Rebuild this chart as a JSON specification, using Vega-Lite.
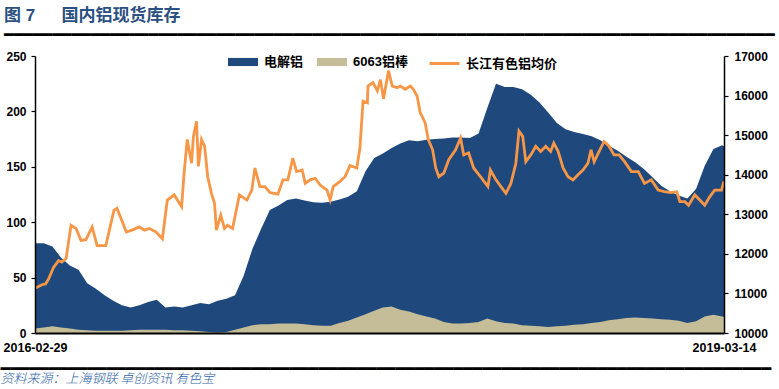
{
  "$schema": "https://vega.github.io/schema/vega-lite/v6.json",
  "width": 689,
  "height": 277,
  "autosize": {"type": "none"},
  "padding": {"left": 35, "top": 56, "right": 55, "bottom": 56},
  "background": "white",
  "config": {"view": {"stroke": null}},
  "title": {
    "text": "图 7\u3000\u00a0\u00a0国内铝现货库存",
    "subtitle": "━━━━━━━━━━━━━━━━━━━━━━━━━━━━━━━━━━━━━━━━━━━━━━━━━━━━━━━━━━━━━━━━━━━━━━━━━━━━━━━━",
    "anchor": "start",
    "frame": "group",
    "dx": -31,
    "offset": 3,
    "font": "Liberation Sans, Noto Sans CJK SC",
    "fontSize": 17,
    "fontWeight": "bold",
    "color": "#2B4F81",
    "subtitleFont": "DejaVu Sans Mono",
    "subtitleFontSize": 16,
    "subtitleFontWeight": "bold",
    "subtitleColor": "#000000",
    "subtitlePadding": 2
  },
  "datasets": {
    "stock": [
      {"date": "2016-02-29", "electrolytic": 81, "bar6063": 4},
      {"date": "2016-03-14", "electrolytic": 81, "bar6063": 5},
      {"date": "2016-03-28", "electrolytic": 78, "bar6063": 6},
      {"date": "2016-04-11", "electrolytic": 68, "bar6063": 5},
      {"date": "2016-04-25", "electrolytic": 61, "bar6063": 4},
      {"date": "2016-05-09", "electrolytic": 57, "bar6063": 3},
      {"date": "2016-05-23", "electrolytic": 45, "bar6063": 2.5},
      {"date": "2016-06-06", "electrolytic": 40, "bar6063": 2},
      {"date": "2016-06-20", "electrolytic": 34, "bar6063": 2},
      {"date": "2016-07-04", "electrolytic": 29, "bar6063": 2},
      {"date": "2016-07-18", "electrolytic": 25, "bar6063": 2},
      {"date": "2016-08-01", "electrolytic": 23, "bar6063": 2.5},
      {"date": "2016-08-15", "electrolytic": 25, "bar6063": 3},
      {"date": "2016-08-29", "electrolytic": 28, "bar6063": 3},
      {"date": "2016-09-12", "electrolytic": 30, "bar6063": 3},
      {"date": "2016-09-26", "electrolytic": 23, "bar6063": 3},
      {"date": "2016-10-10", "electrolytic": 24, "bar6063": 2.5},
      {"date": "2016-10-24", "electrolytic": 23, "bar6063": 2.5},
      {"date": "2016-11-07", "electrolytic": 25, "bar6063": 2},
      {"date": "2016-11-21", "electrolytic": 27, "bar6063": 1.5},
      {"date": "2016-12-05", "electrolytic": 26, "bar6063": 1},
      {"date": "2016-12-19", "electrolytic": 29, "bar6063": 0.5},
      {"date": "2017-01-02", "electrolytic": 31, "bar6063": 1},
      {"date": "2017-01-16", "electrolytic": 34, "bar6063": 3},
      {"date": "2017-01-30", "electrolytic": 52, "bar6063": 5},
      {"date": "2017-02-13", "electrolytic": 76, "bar6063": 7},
      {"date": "2017-02-27", "electrolytic": 94, "bar6063": 8},
      {"date": "2017-03-13", "electrolytic": 111, "bar6063": 8},
      {"date": "2017-03-27", "electrolytic": 115, "bar6063": 8.5},
      {"date": "2017-04-10", "electrolytic": 120, "bar6063": 8.5},
      {"date": "2017-04-24", "electrolytic": 121.5, "bar6063": 8.5},
      {"date": "2017-05-08", "electrolytic": 119.5, "bar6063": 8},
      {"date": "2017-05-22", "electrolytic": 118, "bar6063": 7},
      {"date": "2017-06-05", "electrolytic": 117.5, "bar6063": 6.5},
      {"date": "2017-06-19", "electrolytic": 118.5, "bar6063": 6.5},
      {"date": "2017-07-03", "electrolytic": 120.5, "bar6063": 9},
      {"date": "2017-07-17", "electrolytic": 123, "bar6063": 11},
      {"date": "2017-07-31", "electrolytic": 128, "bar6063": 14},
      {"date": "2017-08-14", "electrolytic": 146, "bar6063": 17},
      {"date": "2017-08-28", "electrolytic": 158, "bar6063": 20},
      {"date": "2017-09-11", "electrolytic": 162, "bar6063": 23},
      {"date": "2017-09-25", "electrolytic": 167, "bar6063": 24},
      {"date": "2017-10-09", "electrolytic": 171, "bar6063": 21},
      {"date": "2017-10-23", "electrolytic": 174, "bar6063": 19.5},
      {"date": "2017-11-06", "electrolytic": 173, "bar6063": 17},
      {"date": "2017-11-20", "electrolytic": 174.5, "bar6063": 15},
      {"date": "2017-12-04", "electrolytic": 175, "bar6063": 13},
      {"date": "2017-12-18", "electrolytic": 175.5, "bar6063": 10},
      {"date": "2018-01-01", "electrolytic": 176.5, "bar6063": 8.5},
      {"date": "2018-01-15", "electrolytic": 176.5, "bar6063": 8.5},
      {"date": "2018-01-29", "electrolytic": 176, "bar6063": 9},
      {"date": "2018-02-12", "electrolytic": 180, "bar6063": 10},
      {"date": "2018-02-26", "electrolytic": 203, "bar6063": 13},
      {"date": "2018-03-12", "electrolytic": 225, "bar6063": 10.5},
      {"date": "2018-03-26", "electrolytic": 222, "bar6063": 9},
      {"date": "2018-04-09", "electrolytic": 222, "bar6063": 8.5},
      {"date": "2018-04-23", "electrolytic": 220, "bar6063": 7},
      {"date": "2018-05-07", "electrolytic": 215, "bar6063": 6.5},
      {"date": "2018-05-21", "electrolytic": 208, "bar6063": 6},
      {"date": "2018-06-04", "electrolytic": 199, "bar6063": 5.5},
      {"date": "2018-06-18", "electrolytic": 189.5, "bar6063": 6},
      {"date": "2018-07-02", "electrolytic": 184, "bar6063": 6.5},
      {"date": "2018-07-16", "electrolytic": 181.5, "bar6063": 7.5},
      {"date": "2018-07-30", "electrolytic": 179.5, "bar6063": 8},
      {"date": "2018-08-13", "electrolytic": 177.5, "bar6063": 9},
      {"date": "2018-08-27", "electrolytic": 174, "bar6063": 10},
      {"date": "2018-09-10", "electrolytic": 169, "bar6063": 11.5},
      {"date": "2018-09-24", "electrolytic": 164.5, "bar6063": 12.5},
      {"date": "2018-10-08", "electrolytic": 159, "bar6063": 13.5},
      {"date": "2018-10-22", "electrolytic": 154, "bar6063": 14},
      {"date": "2018-11-05", "electrolytic": 148, "bar6063": 13.5},
      {"date": "2018-11-19", "electrolytic": 140.5, "bar6063": 13},
      {"date": "2018-12-03", "electrolytic": 133, "bar6063": 12.5},
      {"date": "2018-12-17", "electrolytic": 128, "bar6063": 12},
      {"date": "2018-12-31", "electrolytic": 124, "bar6063": 11},
      {"date": "2019-01-14", "electrolytic": 121.5, "bar6063": 9},
      {"date": "2019-01-28", "electrolytic": 130, "bar6063": 10.5},
      {"date": "2019-02-11", "electrolytic": 151, "bar6063": 15},
      {"date": "2019-02-25", "electrolytic": 166, "bar6063": 16.5},
      {"date": "2019-03-11", "electrolytic": 169.5, "bar6063": 15},
      {"date": "2019-03-14", "electrolytic": 168.5, "bar6063": 14.5}
    ],
    "price": [
      {"date": "2016-03-01", "price": 11140},
      {"date": "2016-03-11", "price": 11220},
      {"date": "2016-03-17", "price": 11240},
      {"date": "2016-03-22", "price": 11370},
      {"date": "2016-03-30", "price": 11660},
      {"date": "2016-04-07", "price": 11830},
      {"date": "2016-04-12", "price": 11790},
      {"date": "2016-04-19", "price": 11880},
      {"date": "2016-04-27", "price": 12720},
      {"date": "2016-05-05", "price": 12640},
      {"date": "2016-05-13", "price": 12340},
      {"date": "2016-05-21", "price": 12360},
      {"date": "2016-05-31", "price": 12680},
      {"date": "2016-06-08", "price": 12210},
      {"date": "2016-06-22", "price": 12210},
      {"date": "2016-07-05", "price": 13100},
      {"date": "2016-07-10", "price": 13150},
      {"date": "2016-07-25", "price": 12550},
      {"date": "2016-08-03", "price": 12600},
      {"date": "2016-08-15", "price": 12680},
      {"date": "2016-08-23", "price": 12600},
      {"date": "2016-08-31", "price": 12640},
      {"date": "2016-09-11", "price": 12550},
      {"date": "2016-09-21", "price": 12380},
      {"date": "2016-09-29", "price": 13360},
      {"date": "2016-10-10", "price": 13490},
      {"date": "2016-10-22", "price": 13190},
      {"date": "2016-10-26", "price": 14040},
      {"date": "2016-10-31", "price": 14890},
      {"date": "2016-11-07", "price": 14290},
      {"date": "2016-11-10", "price": 14970},
      {"date": "2016-11-15", "price": 15350},
      {"date": "2016-11-18", "price": 14210},
      {"date": "2016-11-23", "price": 14890},
      {"date": "2016-11-28", "price": 14720},
      {"date": "2016-12-03", "price": 13950},
      {"date": "2016-12-09", "price": 13530},
      {"date": "2016-12-14", "price": 13280},
      {"date": "2016-12-17", "price": 12600},
      {"date": "2016-12-24", "price": 12980},
      {"date": "2016-12-30", "price": 12640},
      {"date": "2017-01-04", "price": 12720},
      {"date": "2017-01-12", "price": 12640},
      {"date": "2017-01-23", "price": 13490},
      {"date": "2017-02-04", "price": 13360},
      {"date": "2017-02-12", "price": 13610},
      {"date": "2017-02-17", "price": 14170},
      {"date": "2017-02-25", "price": 13700},
      {"date": "2017-03-05", "price": 13700},
      {"date": "2017-03-13", "price": 13550},
      {"date": "2017-03-26", "price": 13510},
      {"date": "2017-04-03", "price": 13870},
      {"date": "2017-04-11", "price": 13870},
      {"date": "2017-04-19", "price": 14420},
      {"date": "2017-04-25", "price": 14080},
      {"date": "2017-05-04", "price": 14120},
      {"date": "2017-05-09", "price": 13780},
      {"date": "2017-05-17", "price": 13870},
      {"date": "2017-05-25", "price": 13910},
      {"date": "2017-06-02", "price": 13740},
      {"date": "2017-06-13", "price": 13610},
      {"date": "2017-06-18", "price": 13360},
      {"date": "2017-06-23", "price": 13700},
      {"date": "2017-07-04", "price": 13830},
      {"date": "2017-07-12", "price": 13950},
      {"date": "2017-07-20", "price": 14230},
      {"date": "2017-07-31", "price": 14170},
      {"date": "2017-08-05", "price": 14680},
      {"date": "2017-08-10", "price": 15860},
      {"date": "2017-08-17", "price": 15820},
      {"date": "2017-08-18", "price": 16240},
      {"date": "2017-08-26", "price": 16330},
      {"date": "2017-09-02", "price": 16120},
      {"date": "2017-09-07", "price": 16400},
      {"date": "2017-09-12", "price": 15920},
      {"date": "2017-09-20", "price": 16630},
      {"date": "2017-09-26", "price": 16240},
      {"date": "2017-10-04", "price": 16200},
      {"date": "2017-10-09", "price": 16240},
      {"date": "2017-10-17", "price": 16160},
      {"date": "2017-10-25", "price": 16240},
      {"date": "2017-10-30", "price": 16160},
      {"date": "2017-11-05", "price": 15990},
      {"date": "2017-11-10", "price": 15570},
      {"date": "2017-11-18", "price": 15310},
      {"date": "2017-11-23", "price": 14890},
      {"date": "2017-11-30", "price": 14630},
      {"date": "2017-12-05", "price": 14170},
      {"date": "2017-12-10", "price": 13950},
      {"date": "2017-12-18", "price": 14040},
      {"date": "2017-12-26", "price": 14380},
      {"date": "2018-01-06", "price": 14630},
      {"date": "2018-01-14", "price": 14930},
      {"date": "2018-01-19", "price": 14500},
      {"date": "2018-01-27", "price": 14550},
      {"date": "2018-02-04", "price": 14170},
      {"date": "2018-02-15", "price": 13950},
      {"date": "2018-02-27", "price": 13700},
      {"date": "2018-03-03", "price": 14120},
      {"date": "2018-03-12", "price": 13870},
      {"date": "2018-03-20", "price": 13700},
      {"date": "2018-03-28", "price": 13530},
      {"date": "2018-04-05", "price": 13780},
      {"date": "2018-04-13", "price": 14290},
      {"date": "2018-04-18", "price": 15100},
      {"date": "2018-04-24", "price": 14970},
      {"date": "2018-04-29", "price": 14330},
      {"date": "2018-05-07", "price": 14500},
      {"date": "2018-05-15", "price": 14720},
      {"date": "2018-05-23", "price": 14590},
      {"date": "2018-05-31", "price": 14720},
      {"date": "2018-06-08", "price": 14590},
      {"date": "2018-06-13", "price": 14800},
      {"date": "2018-06-20", "price": 14590},
      {"date": "2018-06-28", "price": 14170},
      {"date": "2018-07-06", "price": 13950},
      {"date": "2018-07-14", "price": 13870},
      {"date": "2018-07-22", "price": 14000},
      {"date": "2018-07-30", "price": 14120},
      {"date": "2018-08-07", "price": 14290},
      {"date": "2018-08-12", "price": 14630},
      {"date": "2018-08-17", "price": 14330},
      {"date": "2018-08-25", "price": 14590},
      {"date": "2018-09-02", "price": 14840},
      {"date": "2018-09-10", "price": 14720},
      {"date": "2018-09-18", "price": 14500},
      {"date": "2018-09-26", "price": 14500},
      {"date": "2018-10-05", "price": 14330},
      {"date": "2018-10-16", "price": 14080},
      {"date": "2018-10-27", "price": 14080},
      {"date": "2018-11-06", "price": 13780},
      {"date": "2018-11-17", "price": 13870},
      {"date": "2018-11-28", "price": 13610},
      {"date": "2018-12-08", "price": 13570},
      {"date": "2018-12-19", "price": 13550},
      {"date": "2018-12-28", "price": 13570},
      {"date": "2019-01-02", "price": 13320},
      {"date": "2019-01-10", "price": 13320},
      {"date": "2019-01-16", "price": 13230},
      {"date": "2019-01-26", "price": 13490},
      {"date": "2019-02-03", "price": 13360},
      {"date": "2019-02-11", "price": 13230},
      {"date": "2019-02-19", "price": 13440},
      {"date": "2019-02-27", "price": 13610},
      {"date": "2019-03-10", "price": 13610},
      {"date": "2019-03-14", "price": 13830}
    ]
  },
  "layer": [
    {
      "data": {"name": "stock"},
      "mark": {"type": "area", "interpolate": "linear"},
      "encoding": {
        "x": {
          "field": "date", "type": "temporal",
          "scale": {"type": "utc", "domain": [{"year": 2016, "month": 2, "date": 29, "utc": true}, {"year": 2019, "month": 3, "date": 14, "utc": true}]},
          "axis": {
            "orient": "bottom", "zindex": 2,
            "values": [{"year": 2016, "month": 2, "date": 29, "utc": true}, {"year": 2019, "month": 3, "date": 14, "utc": true}],
            "labelExpr": "utcFormat(datum.value, '%Y-%m-%d')",
            "labelFlush": false, "labelOverlap": false,
            "ticks": false, "grid": false,
            "domainColor": "#000000", "domainWidth": 2,
            "labelFont": "Liberation Sans", "labelFontSize": 12.5, "labelFontWeight": "bold", "labelColor": "#000000",
            "labelPadding": 8,
            "title": "━━━━━━━━━━━━━━━━━━━━━━━━━━━━━━━━━━━━━━━━━━━━━━━━━━━━━━━━━━━━━━━━━━━━━━━━━━━━━━━━",
            "titleAnchor": "start", "titleAlign": "left", "titleBaseline": "middle",
            "titleX": -35, "titleY": 35,
            "titleFont": "DejaVu Sans Mono", "titleFontSize": 16, "titleFontWeight": "bold", "titleColor": "#000000"
          }
        },
        "y": {
          "field": "electrolytic", "type": "quantitative",
          "scale": {"domain": [0, 250], "nice": false},
          "axis": {
            "orient": "left", "zindex": 2, "title": null, "grid": false,
            "values": [0, 50, 100, 150, 200, 250],
            "domainColor": "#000000", "domainWidth": 1.5,
            "tickColor": "#000000", "tickSize": 4, "tickWidth": 1.2,
            "labelFont": "Liberation Sans", "labelFontSize": 12, "labelFontWeight": "bold", "labelColor": "#000000",
            "labelPadding": 5
          }
        },
        "fill": {
          "datum": "电解铝",
          "scale": {"domain": ["电解铝", "6063铝棒"], "range": ["#1F497D", "#C4BD97"]},
          "legend": {
            "title": null, "orient": "none", "direction": "horizontal",
            "legendX": 193, "legendY": -9,
            "symbolType": "M-1,-0.27H1V0.27H-1Z", "symbolSize": 900, "symbolStrokeWidth": 0,
            "labelFont": "Liberation Sans, Noto Sans CJK SC", "labelFontSize": 13, "labelFontWeight": "bold", "labelColor": "#000000",
            "labelOffset": 6, "columnPadding": 13
          }
        }
      }
    },
    {
      "data": {"name": "stock"},
      "mark": {"type": "area", "interpolate": "linear"},
      "encoding": {
        "x": {
          "field": "date", "type": "temporal",
          "scale": {"type": "utc", "domain": [{"year": 2016, "month": 2, "date": 29, "utc": true}, {"year": 2019, "month": 3, "date": 14, "utc": true}]},
          "axis": null
        },
        "y": {
          "field": "bar6063", "type": "quantitative",
          "scale": {"domain": [0, 250], "nice": false},
          "axis": null
        },
        "fill": {"datum": "6063铝棒"}
      }
    },
    {
      "data": {"name": "price"},
      "mark": {"type": "line", "strokeWidth": 2.8, "interpolate": "linear"},
      "encoding": {
        "x": {
          "field": "date", "type": "temporal",
          "scale": {"type": "utc", "domain": [{"year": 2016, "month": 2, "date": 29, "utc": true}, {"year": 2019, "month": 3, "date": 14, "utc": true}]},
          "axis": {
            "orient": "bottom", "offset": 35, "labels": false, "ticks": false, "grid": false, "domain": false,
            "title": "资料来源：上海钢联  卓创资讯  有色宝",
            "titleAnchor": "start", "titleAlign": "left", "titleBaseline": "top",
            "titleX": -35,
            "titleFont": "Noto Sans CJK SC", "titleFontSize": 13, "titleFontWeight": 300, "titleFontStyle": "italic",
            "titleColor": "#2E63A8", "titlePadding": 4
          }
        },
        "y": {
          "field": "price", "type": "quantitative",
          "scale": {"domain": [10000, 17000], "nice": false, "zero": false},
          "axis": {
            "orient": "right", "zindex": 2, "title": null, "grid": false,
            "values": [10000, 11000, 12000, 13000, 14000, 15000, 16000, 17000],
            "format": "d",
            "domainColor": "#000000", "domainWidth": 1.5,
            "tickColor": "#000000", "tickSize": 4, "tickWidth": 1.2,
            "labelFont": "Liberation Sans", "labelFontSize": 12, "labelFontWeight": "bold", "labelColor": "#000000",
            "labelPadding": 6
          }
        },
        "stroke": {
          "datum": "长江有色铝均价",
          "scale": {"domain": ["长江有色铝均价"], "range": ["#F79646"]},
          "legend": {
            "title": null, "orient": "none", "direction": "horizontal",
            "legendX": 393, "legendY": -9,
            "symbolType": "stroke", "symbolSize": 900, "symbolStrokeWidth": 3,
            "labelFont": "Liberation Sans, Noto Sans CJK SC", "labelFontSize": 13, "labelFontWeight": "bold", "labelColor": "#000000",
            "labelOffset": 5
          }
        }
      }
    }
  ],
  "resolve": {
    "scale": {"x": "independent", "y": "independent"},
    "axis": {"x": "independent", "y": "independent"}
  }
}
